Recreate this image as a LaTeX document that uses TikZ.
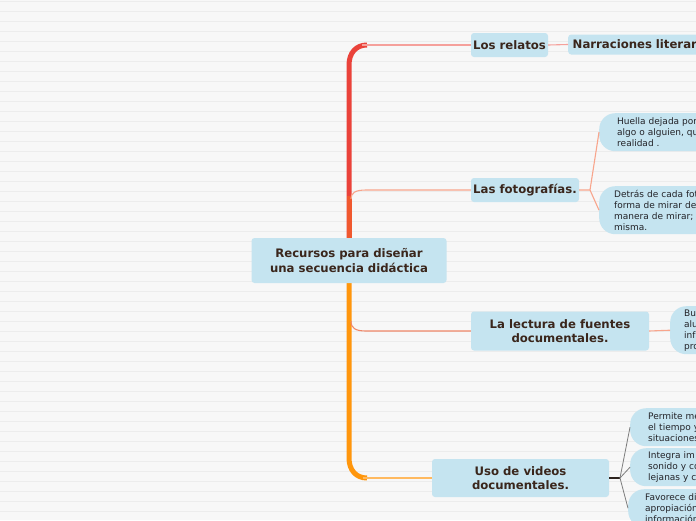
\documentclass[tikz,border=0pt]{standalone}
\usepackage{fontspec}
\setmainfont{DejaVu Sans}
\definecolor{bgc}{RGB}{247,247,247}
\definecolor{gridc}{RGB}{236,236,236}
\definecolor{nodefill}{RGB}{197,228,240}
\definecolor{txt}{RGB}{58,38,28}
\definecolor{subtxt}{RGB}{35,35,40}
\definecolor{trunkred}{RGB}{234,66,58}
\definecolor{trunkmid}{RGB}{240,88,46}
\definecolor{trunkorange}{RGB}{255,150,12}
\definecolor{relc}{RGB}{245,160,155}
\definecolor{fotc}{RGB}{248,165,140}
\definecolor{lecc}{RGB}{240,135,105}
\definecolor{vidc}{RGB}{255,185,95}
\definecolor{darkc}{RGB}{45,35,30}
\definecolor{grayc}{RGB}{125,125,125}
\begin{document}
\begin{tikzpicture}[x=1pt,y=-1pt,
  mainbox/.style={fill=nodefill, rounded corners=3pt, text=txt,
    font=\bfseries\fontsize{11.7}{14.5}\selectfont, align=center, inner sep=0pt},
  subbox/.style={fill=nodefill, rounded corners=16pt, text=subtxt,
    font=\fontsize{9}{11}\selectfont, align=left, anchor=north west,
    text width=120pt, inner ysep=0pt},
  trunkline/.style={line width=5pt},
  thin/.style={line width=1.1pt}
]
\useasboundingbox (0,0) rectangle (696,520);
\clip (0,0) rectangle (696,520);
\fill[bgc] (0,0) rectangle (696,520);
\foreach \yy in {1,11,...,511} \draw[gridc, line width=0.9pt] (0,\yy) -- (696,\yy);

% trunk (drawn first, nodes on top)
\coordinate (tTop) at (367,45);
\coordinate (tBot) at (367,478);
\draw[trunkline, trunkred] (349,250) -- (349,65) .. controls (349,53) and (356,45) .. (tTop);
\fill[trunkmid] (346.5,196) rectangle (351.5,250);
\draw[trunkline, trunkorange] (349,270) -- (349,458) .. controls (349,470) and (356,478) .. (tBot);

% nodes
\node[mainbox, minimum width=195pt, minimum height=45pt] (central) at (349,260.5) {Recursos para diseñar\\una secuencia didáctica};
\node[mainbox, minimum width=77pt, minimum height=24pt] (relatos) at (509.5,45) {Los relatos};
\node[mainbox, anchor=west, minimum height=20pt, text width=140pt, align=left, inner xsep=4.5pt] (narr) at (568,44.5) {Narraciones literar};
\node[mainbox, minimum width=108pt, minimum height=24pt] (fotos) at (525,190) {Las fotografías.};
\node[mainbox, minimum width=178pt, minimum height=39pt] (lectura) at (560,331) {La lectura de fuentes\\documentales.};
\node[mainbox, minimum width=177pt, minimum height=38pt] (videos) at (520.5,478) {Uso de videos\\documentales.};

\node[subbox, minimum height=38pt, inner xsep=18pt] (huella) at (599,113) {Huella dejada por\\algo o alguien, qu\\realidad .};
\node[subbox, minimum height=48pt, inner xsep=15pt] (detras) at (599,186) {Detrás de cada fot\\forma de mirar de\\manera de mirar;\\misma.};
\node[subbox, minimum height=48pt, inner xsep=14pt] (bu) at (670,306) {Bu\\alu\\inf\\pro};
\node[subbox, minimum height=38pt, inner xsep=18pt] (permite) at (630,408) {Permite me\\el tiempo y\\situaciones};
\node[subbox, minimum height=38pt, inner xsep=18pt] (integra) at (630,448) {Integra im\\sonido y co\\lejanas y c};
\node[subbox, minimum height=38pt, inner xsep=17pt] (favorece) at (628,489) {Favorece di\\apropiación\\información};

% first-level branches
\draw[thin, relc] (362,45) -- (relatos.west);
\draw[thin, fotc] (351,199) .. controls (351,193) and (355,190) .. (366,190) -- (fotos.west);
\draw[thin, lecc] (351,321) .. controls (351,328) and (355,331) .. (366,331) -- (lectura.west);
\draw[thin, vidc] (363,478) -- (videos.west);

% second-level connectors
\draw[thin, relc] (relatos.east) -- (narr.west);
\coordinate (fj) at (590,190);
\draw[thin, fotc] (fotos.east) -- (fj) -- (huella.west);
\draw[thin, fotc] (fj) -- (detras.west);
\draw[thin, fotc] (lectura.east) -- (bu.west);
\coordinate (vj) at (620,478);
\draw[thin, darkc] (videos.east) -- (vj);
\draw[line width=0.8pt, grayc] (vj) -- (permite.west);
\draw[line width=0.8pt, grayc] (vj) -- (integra.west);
\draw[line width=0.8pt, grayc] (vj) -- (favorece.west);
\end{tikzpicture}
\end{document}
